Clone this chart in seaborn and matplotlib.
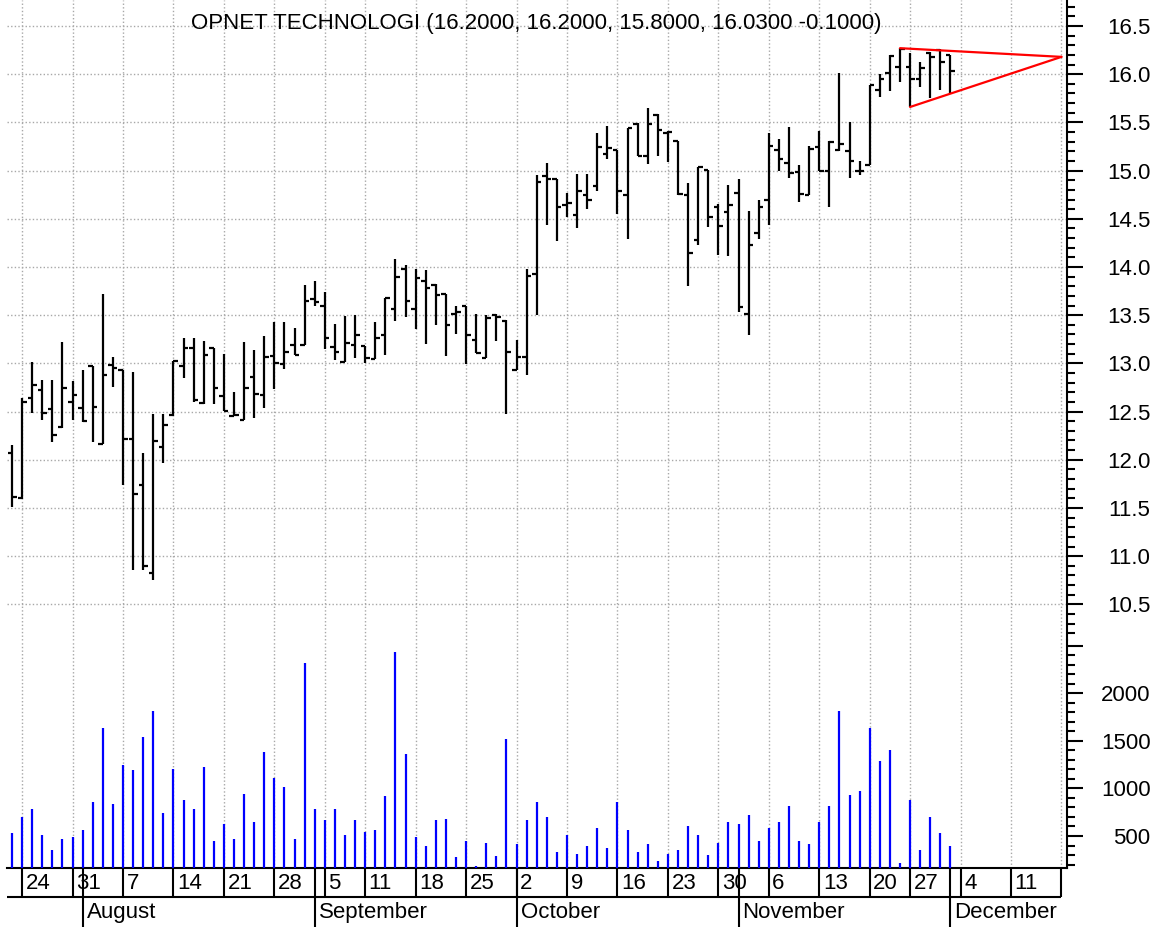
import numpy as np
import pandas as pd
import matplotlib
matplotlib.use("Agg")
import matplotlib.pyplot as plt
from matplotlib.ticker import MultipleLocator, FuncFormatter
import seaborn as sns

sns.set_theme(style="white")
plt.rcParams['font.family'] = ['Liberation Sans', 'DejaVu Sans']

ticker = "OPNET TECHNOLOGI"
first_day, last_day = "2006-07-21", "2006-12-18"
holidays = ["2006-09-04", "2006-11-23"]

# daily OHLC (Jul 21 .. Dec 1)
opens = [12.07, 11.60, 12.64, 12.72, 12.53, 12.34, 12.60, 12.54, 12.97, 12.16,
         12.98, 12.93, 12.22, 11.74, 10.83, 12.13, 12.46, 12.97, 13.16, 12.59,
         13.16, 12.66, 12.45, 12.41, 12.86, 12.67, 13.08, 12.99, 13.19, 13.19,
         13.67, 13.60, 13.17, 13.01, 13.19, 13.18, 13.05, 13.29, 13.56, 13.98,
         13.56, 13.85, 13.81, 13.72, 13.51, 13.60, 13.24, 13.06, 13.50, 13.44,
         12.93, 13.07, 13.93, 14.94, 14.91, 14.64, 14.54, 14.75, 14.84, 15.17,
         15.21, 14.75, 15.48, 15.15, 15.58, 15.39, 15.31, 14.75, 14.28, 15.01,
         14.62, 14.57, 14.77, 13.51, 14.35, 14.70, 15.21, 15.08, 14.99, 14.75,
         15.25, 15.00, 15.21, 15.20, 15.00, 15.06, 15.84, 16.01, 16.08, 16.08,
         15.95, 16.22, 16.25, 16.20]
highs = [12.15, 12.64, 13.01, 12.83, 12.83, 13.22, 12.82, 12.93, 12.97, 13.72,
         13.07, 12.93, 12.91, 12.07, 12.47, 12.47, 13.02, 13.26, 13.26, 13.23,
         13.16, 13.10, 12.70, 13.22, 13.14, 13.28, 13.43, 13.43, 13.37, 13.81,
         13.85, 13.74, 13.41, 13.49, 13.50, 13.18, 13.43, 13.68, 14.08, 14.02,
         13.98, 13.97, 13.82, 13.72, 13.60, 13.60, 13.51, 13.50, 13.51, 13.45,
         13.24, 13.98, 14.95, 15.08, 14.91, 14.77, 14.96, 14.96, 15.39, 15.46,
         15.21, 15.44, 15.49, 15.65, 15.59, 15.41, 15.31, 14.87, 15.04, 15.01,
         14.65, 14.85, 14.91, 14.58, 14.70, 15.39, 15.33, 15.45, 15.06, 15.26,
         15.41, 15.31, 16.01, 15.50, 15.10, 15.89, 16.00, 16.20, 16.27, 16.22,
         16.13, 16.23, 16.26, 16.20]
lows = [11.51, 11.59, 12.49, 12.41, 12.18, 12.33, 12.41, 12.39, 12.18, 12.16,
        12.76, 11.74, 10.86, 10.86, 10.75, 11.97, 12.45, 12.85, 12.60, 12.58,
        12.58, 12.51, 12.45, 12.41, 12.43, 12.54, 12.73, 12.94, 13.09, 13.19,
        13.60, 13.15, 13.03, 13.01, 13.06, 13.00, 13.05, 13.09, 13.44, 13.48,
        13.36, 13.20, 13.40, 13.08, 13.30, 12.99, 13.11, 13.06, 13.23, 12.47,
        12.93, 12.88, 13.50, 14.44, 14.27, 14.52, 14.40, 14.60, 14.79, 15.12,
        14.55, 14.29, 15.15, 15.07, 15.15, 15.09, 14.75, 13.80, 14.23, 14.42,
        14.12, 14.11, 13.53, 13.29, 14.29, 14.44, 15.00, 14.92, 14.67, 14.75,
        15.00, 14.62, 15.20, 14.92, 14.95, 15.06, 15.76, 15.83, 15.92, 15.66,
        15.87, 15.75, 15.84, 15.80]
closes = [11.61, 12.60, 12.78, 12.48, 12.26, 12.74, 12.67, 12.40, 12.55, 12.88,
          12.95, 12.22, 11.64, 10.90, 12.19, 12.36, 13.02, 13.16, 12.62, 13.09,
          12.74, 12.51, 12.46, 12.74, 12.68, 13.07, 13.00, 13.12, 13.09, 13.65,
          13.64, 13.26, 13.12, 13.21, 13.29, 13.06, 13.26, 13.68, 13.90, 13.65,
          13.89, 13.78, 13.71, 13.40, 13.53, 13.29, 13.11, 13.47, 13.48, 13.12,
          13.07, 13.91, 14.88, 14.91, 14.62, 14.66, 14.79, 14.69, 15.25, 15.23,
          14.79, 15.44, 15.15, 15.48, 15.42, 15.40, 14.76, 14.15, 15.04, 14.52,
          14.43, 14.64, 13.58, 14.23, 14.62, 15.26, 15.12, 14.98, 14.76, 15.22,
          15.00, 15.30, 15.28, 15.10, 15.00, 15.89, 15.95, 16.19, 16.26, 15.95,
          16.06, 16.18, 16.13, 16.03]
volumes = [528, 703, 781, 510, 353, 468, 489, 566, 857, 1632,
           840, 1246, 1190, 1540, 1811, 742, 1207, 878, 781, 1228,
           451, 626, 468, 938, 644, 1383, 1113, 1015, 468, 2315,
           781, 665, 781, 510, 665, 545, 566, 917, 2431, 1362,
           489, 392, 665, 682, 276, 451, 181, 430, 293, 1516,
           413, 665, 857, 703, 335, 507, 314, 392, 587, 374,
           857, 566, 335, 413, 237, 314, 353, 605, 510, 297,
           430, 644, 626, 724, 451, 587, 644, 818, 451, 413,
           644, 818, 1811, 934, 973, 1635, 1285, 1401, 216, 875,
           353, 703, 528, 392]

# triangle drawn on the chart
upper_dates, upper_prices = ["2006-11-24", "2006-12-18"], [16.27, 16.18]
lower_dates, lower_prices = ["2006-11-27", "2006-12-18"], [15.66, 16.18]

month_names = ["January", "February", "March", "April", "May", "June", "July",
               "August", "September", "October", "November", "December"]

days = pd.bdate_range(first_day, last_day)
days = days[~days.isin(pd.to_datetime(holidays))]
pos = {d: i for i, d in enumerate(days)}
x = np.arange(len(opens))

week_idx = [i for i in range(1, len(days)) if days[i].weekday() < days[i - 1].weekday()]
month_idx = [i for i in range(1, len(days)) if days[i].month != days[i - 1].month]

W, H = 1163, 927
fs = 16
fig = plt.figure(figsize=(W / 100, H / 100), dpi=100)
left, right = 7 / W, 1066.5 / W
ax_p = fig.add_axes([left, 1 - 640 / H, right - left, 640 / H])
ax_v = fig.add_axes([left, 1 - 867.5 / H, right - left, 227.5 / H], sharex=ax_p)
ax_d = fig.add_axes([left, 0, right - left, 59.5 / H], sharex=ax_p)

grid_kw = dict(color="#a8a8a8", lw=1, linestyle=(0, (1, 1.6)), zorder=0)

# price bars
ax_p.vlines(x, lows, highs, color="black", lw=1.6, zorder=3)
ax_p.hlines(opens, x - 0.45, x, color="black", lw=1.6, zorder=3)
ax_p.hlines(closes, x, x + 0.45, color="black", lw=1.6, zorder=3)
sns.lineplot(x=[pos[pd.Timestamp(d)] for d in upper_dates], y=upper_prices,
             ax=ax_p, color="red", lw=1.6, zorder=4)
sns.lineplot(x=[pos[pd.Timestamp(d)] for d in lower_dates], y=lower_prices,
             ax=ax_p, color="red", lw=1.6, zorder=4)
ax_p.set_ylim(10.13, 16.77)
ax_p.yaxis.set_major_locator(MultipleLocator(0.5))
ax_p.yaxis.set_minor_locator(MultipleLocator(0.1))
ax_p.yaxis.set_major_formatter(FuncFormatter(lambda v, p: f"{v:.1f}"))
for yv in np.arange(10.5, 16.6, 0.5):
    ax_p.axhline(yv, **grid_kw)

# volume
ax_v.vlines(x, 0, volumes, color="#0000ff", lw=1.6, zorder=3)
ax_v.set_ylim(169, 2560)
ax_v.yaxis.set_major_locator(MultipleLocator(500))
ax_v.yaxis.set_minor_locator(MultipleLocator(100))
ax_v.yaxis.set_major_formatter(FuncFormatter(lambda v, p: f"{v:.0f}" if v <= 2000 else ""))

for ax in (ax_p, ax_v):
    for i in week_idx:
        ax.axvline(i, **grid_kw)
    for s in ("top", "left", "bottom"):
        ax.spines[s].set_visible(False)
    ax.spines["right"].set_color("black")
    ax.spines["right"].set_linewidth(1.5)
    ax.yaxis.tick_right()
    ax.tick_params(axis="x", which="both", length=0, labelbottom=False)
    ax.tick_params(axis="y", which="major", right=True, left=False, direction="out",
                   length=11.5, width=1.5, color="black", pad=49,
                   labelsize=fs, labelcolor="black")
    ax.tick_params(axis="y", which="minor", right=True, left=False, direction="out",
                   length=5.8, width=1.5, color="black")
    ax.set_facecolor("white")
    for t in ax.yaxis.get_major_ticks():
        t.label2.set_horizontalalignment("right")
ax_v.spines["bottom"].set_visible(True)
ax_v.spines["bottom"].set_color("black")
ax_v.spines["bottom"].set_linewidth(1.5)

ax_p.set_xlim(-0.5, len(days) - 0.5)

# date strip
ax_d.set_ylim(0, 1)
ax_d.axis("off")
mid = 30 / 59.5
ax_d.hlines(mid, -0.5, len(days) - 1, color="black", lw=1.5)
ax_d.vlines(week_idx, mid, 1, color="black", lw=1.5)
ax_d.vlines(month_idx, 0, 1, color="black", lw=1.5)
for i in week_idx[:-1]:
    ax_d.text(i + 0.35, 0.64, str(days[i].day), ha="left", va="baseline",
              fontsize=fs, color="black")
for i in month_idx:
    ax_d.text(i + 0.4, 0.15, month_names[days[i].month - 1], ha="left",
              va="baseline", fontsize=fs, color="black")

title = (f"{ticker} ({opens[-1]:.4f}, {highs[-1]:.4f}, {lows[-1]:.4f}, "
         f"{closes[-1]:.4f} {closes[-1] - closes[-2]:.4f})")
fig.text(536 / W, 1 - 29 / H, title, ha="center", va="baseline", fontsize=fs, color="black")

fig.savefig("out.png", dpi=100, facecolor="white")
